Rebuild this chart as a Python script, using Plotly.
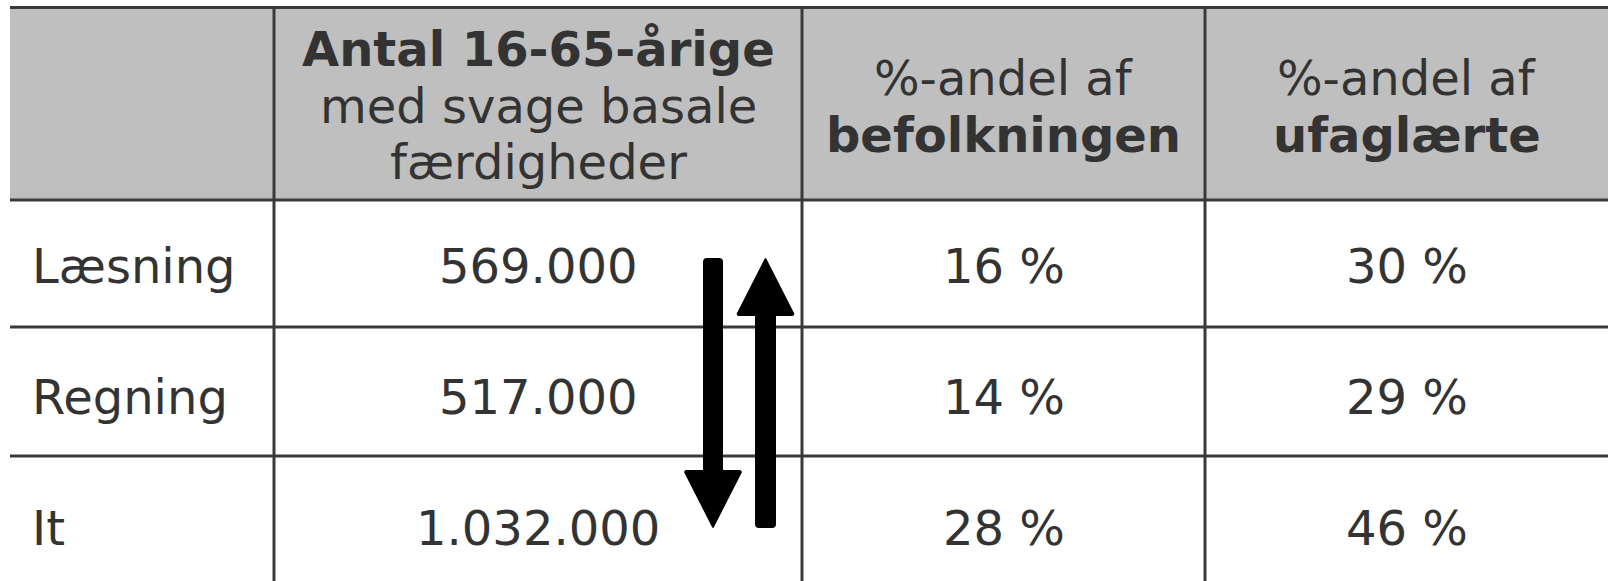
import plotly.graph_objects as go

# ---- data ----
categories = ["Læsning", "Regning", "It"]
antal = [569000, 517000, 1032000]
pct_befolkning = [16, 14, 28]
pct_ufaglaerte = [30, 29, 46]

header_col1 = ["<b>Antal 16-65-årige</b>", "med svage basale", "færdigheder"]
header_col2 = ["%-andel af", "<b>befolkningen</b>"]
header_col3 = ["%-andel af", "<b>ufaglærte</b>"]

# ---- layout constants (pixels) ----
W, H = 1608, 581
LEFT, RIGHT = 10, 1608
TOP = 7.5
HEADER_BOTTOM = 200
ROW_LINES = [327, 456]
COL_LINES = [274, 802, 1205]
ROW_TEXT_Y = [266, 397, 528]
COL_CENTERS = [(COL_LINES[0] + COL_LINES[1]) / 2,
               (COL_LINES[1] + COL_LINES[2]) / 2,
               (COL_LINES[2] + RIGHT) / 2]
LABEL_X = 30
FONT = "Verdana, DejaVu Sans, sans-serif"
TXT = "#333333"
LINE = "#3a3a3a"
FS = 48


def dk(n):
    return f"{n:,}".replace(",", ".")


fig = go.Figure()
fig.add_trace(go.Scatter(x=[0, W], y=[0, H], mode="markers",
                         marker=dict(opacity=0), hoverinfo="skip", showlegend=False))

shapes = []
# header fill
shapes.append(dict(type="rect", x0=LEFT, x1=RIGHT + 5, y0=TOP, y1=HEADER_BOTTOM,
                   fillcolor="#bfbfbf", line=dict(width=0), layer="below"))
# horizontal lines
for yy in [TOP, HEADER_BOTTOM] + ROW_LINES:
    shapes.append(dict(type="line", x0=LEFT, x1=RIGHT + 5, y0=yy, y1=yy,
                       line=dict(color=LINE, width=3)))
# vertical lines
for xx in COL_LINES:
    shapes.append(dict(type="line", x0=xx, x1=xx, y0=TOP, y1=H + 20,
                       line=dict(color=LINE, width=3)))


# arrows (down and up)
def arrow_down(cx, top, tip, shaft_w=20, head_w=58, head_h=58):
    hb = tip - head_h
    r = shaft_w / 2
    return (f"M {cx - r} {hb} L {cx - r} {top + 4} Q {cx - r} {top} {cx - r + 4} {top} "
            f"L {cx + r - 4} {top} Q {cx + r} {top} {cx + r} {top + 4} L {cx + r} {hb} "
            f"L {cx + head_w / 2 - 2} {hb} Q {cx + head_w / 2 + 1} {hb + 1} {cx + head_w / 2 - 1} {hb + 4} "
            f"L {cx + 1} {tip - 1} Q {cx} {tip + 1} {cx - 1} {tip - 1} "
            f"L {cx - head_w / 2 + 1} {hb + 4} Q {cx - head_w / 2 - 1} {hb + 1} {cx - head_w / 2 + 2} {hb} Z")


def arrow_up(cx, bottom, tip, shaft_w=21, head_w=58, head_h=58):
    hb = tip + head_h
    r = shaft_w / 2
    return (f"M {cx - r} {hb} L {cx - r} {bottom - 4} Q {cx - r} {bottom} {cx - r + 4} {bottom} "
            f"L {cx + r - 4} {bottom} Q {cx + r} {bottom} {cx + r} {bottom - 4} L {cx + r} {hb} "
            f"L {cx + head_w / 2 - 2} {hb} Q {cx + head_w / 2 + 1} {hb - 1} {cx + head_w / 2 - 1} {hb - 4} "
            f"L {cx + 1} {tip + 1} Q {cx} {tip - 1} {cx - 1} {tip + 1} "
            f"L {cx - head_w / 2 + 1} {hb - 4} Q {cx - head_w / 2 - 1} {hb - 1} {cx - head_w / 2 + 2} {hb} Z")


shapes.append(dict(type="path", path=arrow_down(713, 258, 528), fillcolor="black",
                   line=dict(width=0)))
shapes.append(dict(type="path", path=arrow_up(765.5, 528, 258), fillcolor="black",
                   line=dict(width=0)))

annotations = []


def txt(x, y, s, xanchor="center", size=FS):
    annotations.append(dict(x=x, y=y, text=s, showarrow=False, xanchor=xanchor,
                            yanchor="middle", font=dict(family=FONT, size=size, color=TXT)))


# header
for s, yy in zip(header_col1, [49, 106, 161.5]):
    txt(COL_CENTERS[0], yy, s)
for s, yy in zip(header_col2, [77.5, 135]):
    txt(COL_CENTERS[1], yy, s)
for s, yy in zip(header_col3, [77.5, 135]):
    txt(COL_CENTERS[2], yy, s)

# body
for i, cat in enumerate(categories):
    y = ROW_TEXT_Y[i]
    txt(LABEL_X, y, cat, xanchor="left")
    txt(COL_CENTERS[0], y, dk(antal[i]))
    txt(COL_CENTERS[1], y, f"{pct_befolkning[i]} %")
    txt(COL_CENTERS[2], y, f"{pct_ufaglaerte[i]} %")

fig.update_layout(
    width=W, height=H,
    margin=dict(l=0, r=0, t=0, b=0),
    paper_bgcolor="white", plot_bgcolor="white",
    xaxis=dict(range=[0, W], visible=False, fixedrange=True),
    yaxis=dict(range=[H, 0], visible=False, fixedrange=True),
    shapes=shapes, annotations=annotations,
    showlegend=False,
)

fig.write_html("out.html", config={"displayModeBar": False},
               post_script="document.body.style.margin='0px';document.body.style.overflow='hidden';")
